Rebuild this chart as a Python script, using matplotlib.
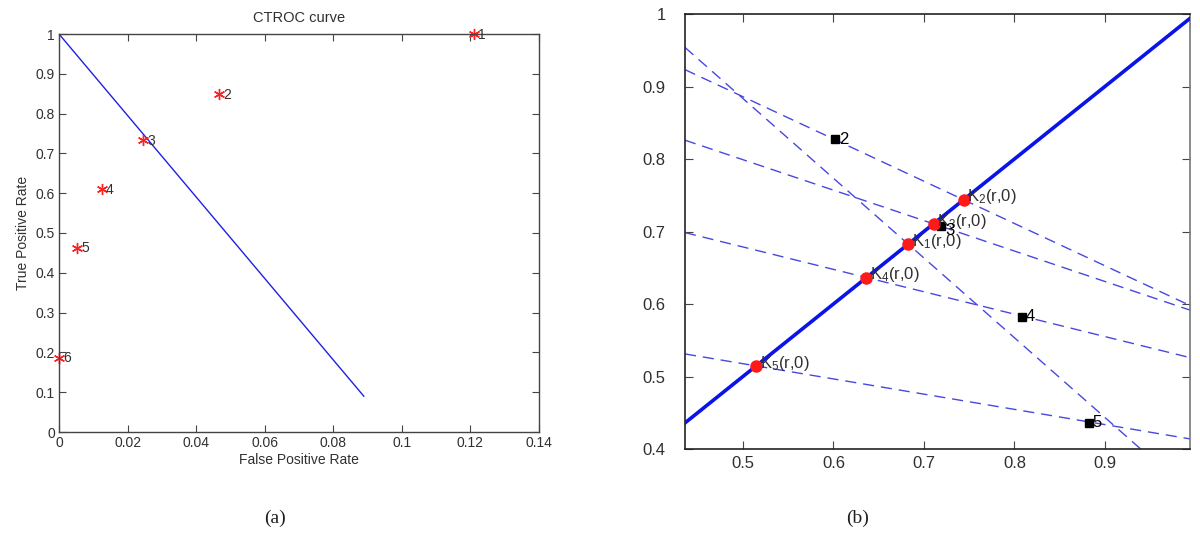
import matplotlib
matplotlib.use("Agg")
import matplotlib.pyplot as plt
import numpy as np

plt.rcParams['font.family'] = ['Liberation Sans', 'DejaVu Sans']
plt.rcParams['mathtext.fontset'] = 'custom'
plt.rcParams['mathtext.rm'] = 'Liberation Sans'
plt.rcParams['mathtext.default'] = 'regular'

# ---- panel (a) data ----
fpr = [0.121, 0.0468, 0.0246, 0.0125, 0.0053, 0.0]
tpr = [1.0, 0.848, 0.733, 0.611, 0.463, 0.187]
point_labels = ['1', '2', '3', '4', '5', '6']
line_x = [0.0, 0.0889]
line_y = [1.0, 0.09]
a_xticks = [0, 0.02, 0.04, 0.06, 0.08, 0.1, 0.12, 0.14]
a_xticklabels = ['0', '0.02', '0.04', '0.06', '0.08', '0.1', '0.12', '0.14']
a_yticks = [0, 0.1, 0.2, 0.3, 0.4, 0.5, 0.6, 0.7, 0.8, 0.9, 1]
a_yticklabels = ['0', '0.1', '0.2', '0.3', '0.4', '0.5', '0.6', '0.7', '0.8', '0.9', '1']

# ---- panel (b) data ----
k_vals = [0.6826, 0.7438, 0.7106, 0.6365, 0.5146]      # K1..K5 on diagonal
k_labels = ['K$_1$(r,0)', 'K$_2$(r,0)', 'K$_3$(r,0)', 'K$_4$(r,0)', 'K$_5$(r,0)']
slopes = [-1.10, -0.583, -0.420, -0.309, -0.210]       # dashed line slopes through K_i
sq_x = [0.602, 0.7188, 0.8085, 0.8825]
sq_y = [0.8275, 0.707, 0.5827, 0.4364]
sq_labels = ['2', '3', '4', '5']
b_xlim = [0.436, 0.994]
b_ylim = [0.4, 1.0]
b_xticks = [0.5, 0.6, 0.7, 0.8, 0.9]
b_yticks = [0.4, 0.5, 0.6, 0.7, 0.8, 0.9, 1.0]
b_yticklabels = ['0.4', '0.5', '0.6', '0.7', '0.8', '0.9', '1']

fig = plt.figure(figsize=(12, 5.54), dpi=100)
W, H = 1200, 554

def add_ax(x0, y0, x1, y1):
    return fig.add_axes([x0 / W, 1 - y1 / H, (x1 - x0) / W, (y1 - y0) / H])

txtc = '#303030'
frame = '#444444'

# ---------- (a) ----------
ax = add_ax(59, 34, 539, 432)
ax.plot(line_x, line_y, color='#2020e0', lw=1.0)
ax.plot(fpr, tpr, linestyle='none', marker=(6, 2, 0), color='#ff2020', ms=8, mew=1.0,
        clip_on=False)
for x, y, s in zip(fpr, tpr, point_labels):
    ax.annotate(s, (x, y), xytext=(3, -0.5), textcoords='offset points',
                va='center', ha='left', fontsize=10, color=txtc)
ax.set_xlim(0, 0.14)
ax.set_ylim(0, 1)
ax.set_xticks(a_xticks)
ax.set_xticklabels(a_xticklabels)
ax.set_yticks(a_yticks)
ax.set_yticklabels(a_yticklabels)
ax.tick_params(direction='in', top=True, right=True, length=5, width=0.8,
               labelsize=10, labelcolor=txtc, color=frame, pad=3)
for sp in ax.spines.values():
    sp.set_color(frame)
    sp.set_linewidth(1.0)
ax.set_title('CTROC curve', fontsize=10.5, color=txtc, pad=9)
ax.set_xlabel('False Positive Rate', fontsize=10, color=txtc, labelpad=2)
ax.set_ylabel('True Positive Rate', fontsize=10, color=txtc, labelpad=4)

# ---------- (b) ----------
bx = add_ax(685, 14, 1190, 449)
xs = np.array(b_xlim)
bx.plot(xs, xs, color='#0a14e6', lw=2.6, zorder=3)
for k, s in zip(k_vals, slopes):
    ys = k + s * (xs - k)
    bx.plot(xs, ys, color='#4848e0', lw=1.0, ls=(0, (8, 5)), zorder=2)
bx.plot(k_vals, k_vals, linestyle='none', marker='o', color='#ff1a1a',
        ms=8, zorder=5)
bx.plot(sq_x, sq_y, linestyle='none', marker='s', color='black', ms=5.5, zorder=4)
for k, s in zip(k_vals, k_labels):
    bx.annotate(s, (k, k), xytext=(2.5, 2), textcoords='offset points',
                va='center', ha='left', fontsize=12, color=txtc, zorder=6)
for x, y, s in zip(sq_x, sq_y, sq_labels):
    off = (2.5, 0) if s != '3' else (3.5, -3)
    bx.annotate(s, (x, y), xytext=off, textcoords='offset points',
                va='center', ha='left', fontsize=12, color='black', zorder=6)
bx.set_xlim(*b_xlim)
bx.set_ylim(*b_ylim)
bx.set_xticks(b_xticks)
bx.set_yticks(b_yticks)
bx.set_yticklabels(b_yticklabels)
bx.tick_params(direction='in', top=True, right=True, length=6, width=0.8,
               labelsize=12, labelcolor=txtc, color=frame, pad=5)
bx.tick_params(axis='y', pad=14)
for sp in bx.spines.values():
    sp.set_color('#222222')
    sp.set_linewidth(1.2)
bx.spines['right'].set_color('#777777')

# captions
fig.text(275 / W, 1 - 518 / H, '(a)', fontsize=14, family='Liberation Serif',
         ha='center', va='center', color='#202020')
fig.text(858 / W, 1 - 518 / H, '(b)', fontsize=14, family='Liberation Serif',
         ha='center', va='center', color='#202020')

fig.savefig('out.png', dpi=100, facecolor='white')
